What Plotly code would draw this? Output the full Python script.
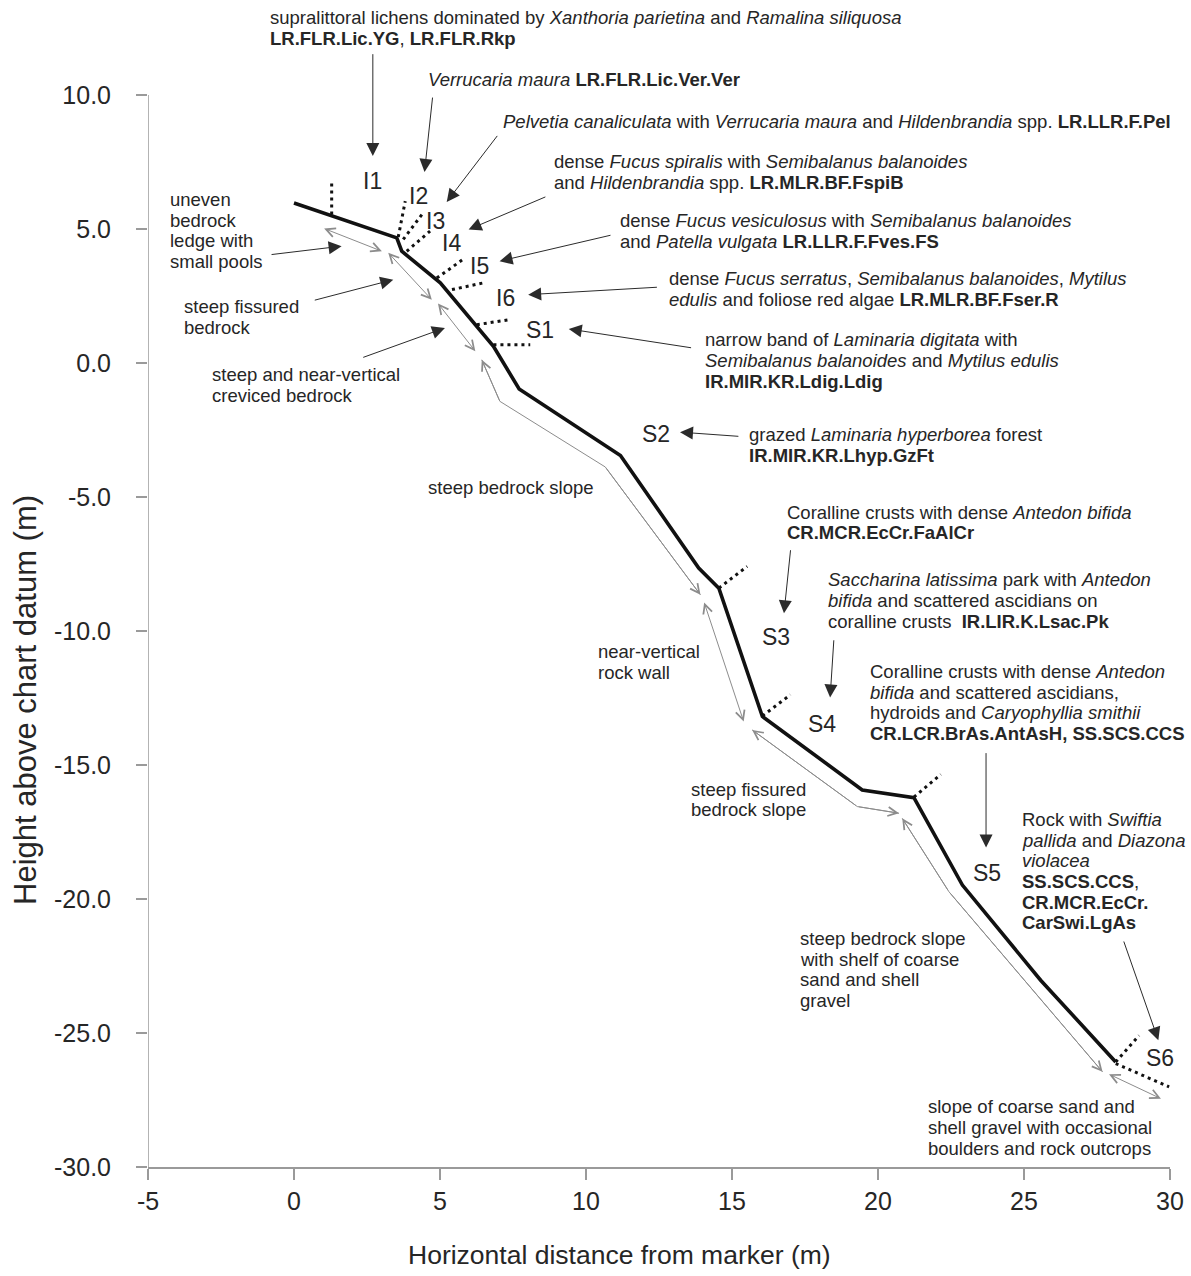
import plotly.graph_objects as go

FONT = "Liberation Sans, Arial, Helvetica, sans-serif"
TXT = "#262626"
AXC = "#9a9a9a"
GRAY = "#8c8c8c"

# ---------------- data ----------------
x_tick_vals = [-5, 0, 5, 10, 15, 20, 25, 30]
x_tick_labels = ["-5", "0", "5", "10", "15", "20", "25", "30"]
y_tick_vals = [-30, -25, -20, -15, -10, -5, 0, 5, 10]
y_tick_labels = ["-30.0", "-25.0", "-20.0", "-15.0", "-10.0", "-5.0", "0.0", "5.0", "10.0"]

# seabed / shore profile
profile_x = [0.0, 3.52, 3.69, 5.01, 6.83, 7.71, 11.18, 13.86, 14.55, 16.04, 19.46, 21.23, 22.89, 25.57, 28.14]
profile_y = [5.97, 4.67, 4.17, 2.99, 0.62, -0.97, -3.45, -7.65, -8.40, -13.19, -15.93, -16.22, -19.48, -23.03, -26.08]

# zone boundaries (dotted), start -> end
bound_x0 = [1.29, 3.57, 3.74, 3.86, 4.89, 5.41, 6.26, 6.83, 14.55, 16.04, 21.23, 28.14, 28.14]
bound_y0 = [5.54, 4.70, 4.61, 4.17, 3.17, 2.74, 1.43, 0.68, -8.40, -13.17, -16.20, -26.08, -26.14]
bound_x1 = [1.29, 3.81, 4.38, 4.66, 5.86, 6.49, 7.40, 8.09, 15.52, 17.00, 22.15, 28.94, 29.97]
bound_y1 = [6.85, 6.04, 5.54, 4.92, 3.92, 2.99, 1.62, 0.68, -7.59, -12.38, -15.35, -25.09, -27.01]

# zone names and label positions
zone_names = ["I1", "I2", "I3", "I4", "I5", "I6", "S1", "S2", "S3", "S4", "S5", "S6"]
zone_x = [2.68, 4.26, 4.83, 5.40, 6.35, 7.23, 8.42, 12.40, 16.51, 18.07, 23.72, 29.66]
zone_y = [6.78, 6.22, 5.29, 4.48, 3.61, 2.43, 1.24, -2.65, -10.21, -13.48, -19.04, -25.95]

# pointer arrows: tail (x, y) -> head (x, y)
ptr_tail_x = [2.70, 4.75, 7.00, 8.66, 10.89, 12.48, 13.65, 15.27, 17.01, 18.49, 23.70, 28.40, -0.82, 0.66, 2.32]
ptr_tail_y = [11.58, 9.96, 8.53, 6.22, 4.78, 2.83, 0.56, -2.74, -6.93, -10.29, -14.50, -21.53, 4.04, 2.33, 0.19]
ptr_head_x = [2.70, 4.47, 5.23, 5.98, 7.04, 8.02, 9.41, 13.22, 16.78, 18.36, 23.70, 29.60, 1.63, 3.40, 5.17]
ptr_head_y = [7.72, 7.13, 6.01, 4.98, 3.80, 2.55, 1.27, -2.58, -9.34, -12.48, -18.08, -25.27, 4.36, 3.11, 1.31]

# extent brackets (double-headed), straight ones
span_x0 = [0.98, 3.18, 4.89, 14.03, 27.86]
span_y0 = [5.04, 4.17, 2.28, -8.88, -26.51]
span_x1 = [3.01, 4.72, 6.21, 15.40, 29.69]
span_y1 = [4.17, 2.36, 0.44, -13.38, -27.45]

# extent brackets following the profile (polylines)
bend1_x = [6.43, 7.05, 10.66, 13.92]
bend1_y = [0.12, -1.43, -3.88, -8.65]
bend2_x = [15.69, 19.29, 20.72]
bend2_y = [-13.69, -16.55, -16.80]
bend3_x = [20.83, 22.43, 27.69]
bend3_y = [-16.99, -19.73, -26.45]

# descriptive text blocks: anchor x, anchor y, lines
desc_blocks = [
    (-0.86, 12.88, ["supralittoral lichens dominated by <i>Xanthoria parietina</i> and <i>Ramalina siliquosa</i>",
                    "<b>LR.FLR.Lic.YG</b>, <b>LR.FLR.Rkp</b>"]),
    (4.55, 10.57, ["<i>Verrucaria maura</i> <b>LR.FLR.Lic.Ver.Ver</b>"]),
    (7.12, 9.00, ["<i>Pelvetia canaliculata</i> with <i>Verrucaria maura</i> and <i>Hildenbrandia</i> spp. <b>LR.LLR.F.Pel</b>"]),
    (8.87, 7.51, ["dense <i>Fucus spiralis</i> with <i>Semibalanus balanoides</i>",
                  "and <i>Hildenbrandia</i> spp. <b>LR.MLR.BF.FspiB</b>"]),
    (11.13, 5.32, ["dense <i>Fucus vesiculosus</i> with <i>Semibalanus balanoides</i>",
                   "and <i>Patella vulgata</i> <b>LR.LLR.F.Fves.FS</b>"]),
    (12.80, 3.14, ["dense <i>Fucus serratus</i>, <i>Semibalanus balanoides</i>, <i>Mytilus</i>",
                   "<i>edulis</i> and foliose red algae <b>LR.MLR.BF.Fser.R</b>"]),
    (14.03, 0.87, ["narrow band of <i>Laminaria digitata</i> with",
                   "<i>Semibalanus balanoides</i> and <i>Mytilus edulis</i>",
                   "<b>IR.MIR.KR.Ldig.Ldig</b>"]),
    (15.56, -2.68, ["grazed <i>Laminaria hyperborea</i> forest",
                    "<b>IR.MIR.KR.Lhyp.GzFt</b>"]),
    (16.85, -5.56, ["Coralline crusts with dense <i>Antedon bifida</i>",
                    "<b>CR.MCR.EcCr.FaAlCr</b>"]),
    (18.24, -8.09, ["<i>Saccharina latissima</i> park with <i>Antedon</i>",
                    "<i>bifida</i> and scattered ascidians on",
                    "coralline crusts \u00a0<b>IR.LIR.K.Lsac.Pk</b>"]),
    (19.70, -11.51, ["Coralline crusts with dense <i>Antedon</i>",
                     "<i>bifida</i> and scattered ascidians,",
                     "hydroids and <i>Caryophyllia smithii</i>",
                     "<b>CR.LCR.BrAs.AntAsH, SS.SCS.CCS</b>"]),
    (24.90, -17.03, ["Rock with <i>Swiftia</i>",
                     "<i>pallida</i> and <i>Diazona</i>",
                     "<i>violacea</i>",
                     "<b>SS.SCS.CCS</b>,",
                     "<b>CR.MCR.EcCr.</b>",
                     "<b>CarSwi.LgAs</b>"]),
    (21.69, -27.76, ["slope of coarse sand and",
                     "shell gravel with occasional",
                     "boulders and rock outcrops"]),
    (4.54, -4.64, ["steep bedrock slope"]),
    (10.37, -10.76, ["near-vertical", "rock wall"]),
    (13.56, -15.90, ["steep fissured", "bedrock slope"]),
    (17.29, -21.47, ["steep bedrock slope", "with shelf of coarse", "sand and shell", "gravel"]),
    (-4.27, 6.10, ["uneven", "bedrock", "ledge with", "small pools"]),
    (-3.81, 2.09, ["steep fissured", "bedrock"]),
    (-2.84, -0.44, ["steep and near-vertical", "creviced bedrock"]),
]

x_title = "Horizontal distance from marker (m)"
y_title = "Height above chart datum (m)"

# ---------------- layout geometry ----------------
W, H = 1191, 1276
L, R, T = 148, 21, 5
PX_Y10, PX_YM30 = 95, 1167
B = H - PX_YM30
ppu = (PX_YM30 - PX_Y10) / 40.0
y_top = 10 + (PX_Y10 - T) / ppu
plot_w = W - L - R
plot_h = PX_YM30 - T

def paper_x(px):
    return (px - L) / plot_w

def paper_y(py):
    return (PX_YM30 - py) / plot_h

fig = go.Figure()

# gray extent brackets following the profile
for bx, by in [(bend1_x, bend1_y), (bend2_x, bend2_y), (bend3_x, bend3_y)]:
    fig.add_trace(go.Scatter(x=bx, y=by, mode="lines", line=dict(color=GRAY, width=1),
                             hoverinfo="skip", showlegend=False))

# profile
fig.add_trace(go.Scatter(x=profile_x, y=profile_y, mode="lines",
                         line=dict(color="#111111", width=3.6),
                         hoverinfo="skip", showlegend=False))

# boundaries
bxs, bys = [], []
for a, b, c, d in zip(bound_x0, bound_y0, bound_x1, bound_y1):
    bxs += [a, c, None]
    bys += [b, d, None]
fig.add_trace(go.Scatter(x=bxs, y=bys, mode="lines",
                         line=dict(color="#111111", width=3, dash="3px,4px"),
                         hoverinfo="skip", showlegend=False))

ann = []

def arrow(hx, hy, tx, ty, color, width, head, size, side="end", shead=None, ssize=None):
    d = dict(x=hx, y=hy, ax=tx, ay=ty, xref="x", yref="y", axref="x", ayref="y",
             text="", showarrow=True, arrowcolor=color, arrowwidth=width,
             arrowhead=head, arrowsize=size, arrowside=side, standoff=0, startstandoff=0)
    if shead is not None:
        d["startarrowhead"] = shead
        d["startarrowsize"] = ssize
    ann.append(d)

# straight double-headed brackets
for a, b, c, d in zip(span_x0, span_y0, span_x1, span_y1):
    arrow(c, d, a, b, GRAY, 1, 5, 1.8, side="end+start", shead=5, ssize=1.8)

# heads on the bent brackets
for bx, by in [(bend1_x, bend1_y), (bend2_x, bend2_y), (bend3_x, bend3_y)]:
    arrow(bx[0], by[0], bx[1], by[1], GRAY, 1, 5, 1.8)
    arrow(bx[-1], by[-1], bx[-2], by[-2], GRAY, 1, 5, 1.8)

# pointer arrows
for tx, ty, hx, hy in zip(ptr_tail_x, ptr_tail_y, ptr_head_x, ptr_head_y):
    arrow(hx, hy, tx, ty, "#2b2b2b", 1, 2, 2.6)

# zone labels
for n, zx, zy in zip(zone_names, zone_x, zone_y):
    ann.append(dict(x=zx, y=zy, xref="x", yref="y", text=n, showarrow=False,
                    xanchor="center", yanchor="middle",
                    font=dict(family=FONT, size=23, color=TXT)))

# descriptive text
LINE = 20.7
for bx, by, lines in desc_blocks:
    for i, s in enumerate(lines):
        ann.append(dict(x=bx, y=by, xref="x", yref="y", text=s, showarrow=False,
                        xanchor="left", yanchor="middle", yshift=-i * LINE, borderpad=0,
                        font=dict(family=FONT, size=18.5, color=TXT)))

# axis titles
ann.append(dict(x=paper_x(619), y=paper_y(1255), xref="paper", yref="paper", text=x_title,
                showarrow=False, xanchor="center", yanchor="middle",
                font=dict(family=FONT, size=26.5, color=TXT)))
ann.append(dict(x=paper_x(25), y=paper_y(700), xref="paper", yref="paper", text=y_title,
                showarrow=False, xanchor="center", yanchor="middle", textangle=-90,
                font=dict(family=FONT, size=31, color=TXT)))

shapes = [dict(type="line", xref="x", yref="y", x0=-5, x1=-5, y0=-30, y1=10,
               line=dict(color=AXC, width=1.5))]

fig.update_layout(
    width=W, height=H, autosize=False,
    margin=dict(l=L, r=R, t=T, b=B, pad=0),
    paper_bgcolor="white", plot_bgcolor="white",
    annotations=ann, shapes=shapes,
    font=dict(family=FONT, color=TXT),
    xaxis=dict(range=[-5, 30], tickvals=x_tick_vals, ticktext=x_tick_labels,
               showgrid=False, zeroline=False, showline=True, linecolor=AXC, linewidth=1.5,
               ticks="outside", ticklen=11, tickcolor=AXC, tickwidth=1.5,
               tickfont=dict(family=FONT, size=25, color=TXT), ticklabelstandoff=0,
               fixedrange=True),
    yaxis=dict(range=[-30, y_top], tickvals=y_tick_vals, ticktext=y_tick_labels,
               showgrid=False, zeroline=False, showline=False,
               ticks="outside", ticklen=11, tickcolor=AXC, tickwidth=1.5,
               tickfont=dict(family=FONT, size=25, color=TXT), ticklabelstandoff=20,
               fixedrange=True),
)

fig.write_html("out.html", config={"displayModeBar": False},
               post_script="document.body.style.margin='0';")
